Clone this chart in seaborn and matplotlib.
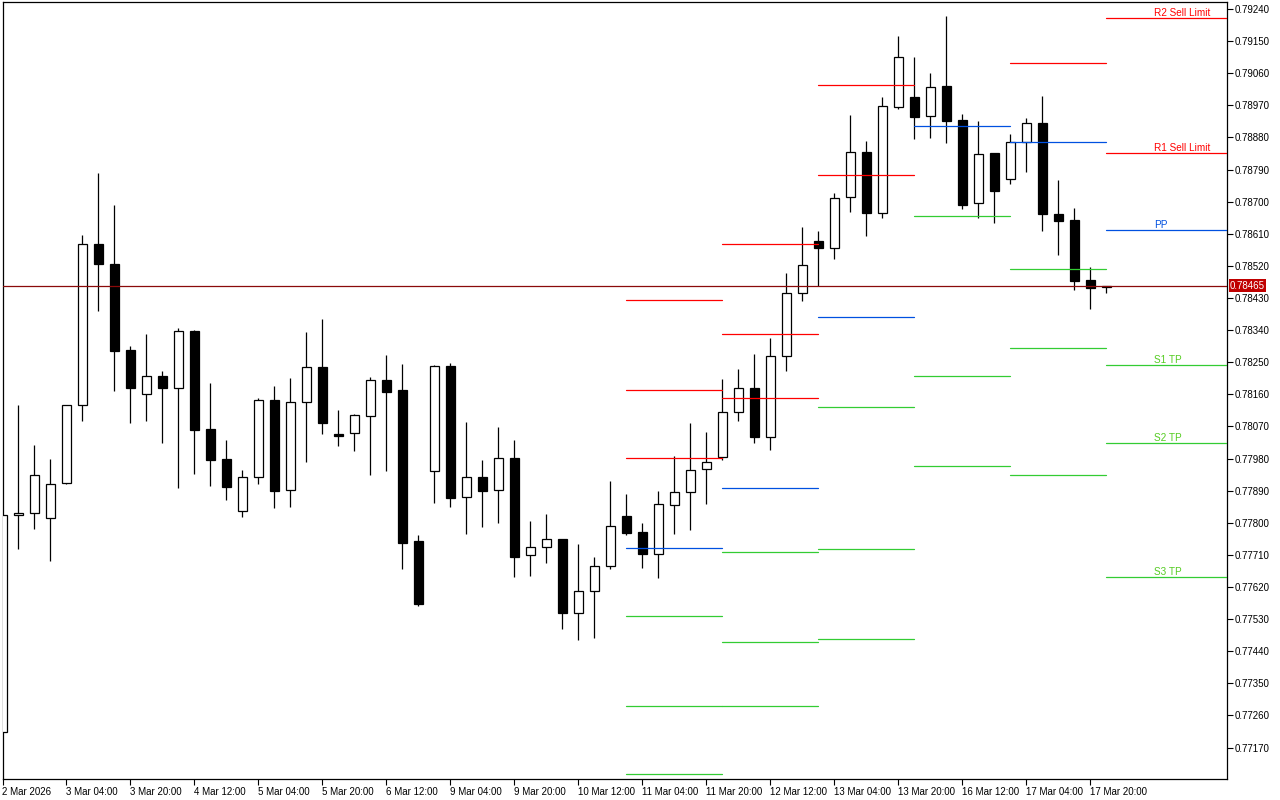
import numpy as np
import pandas as pd
import matplotlib
matplotlib.use("Agg")
import matplotlib.pyplot as plt
import matplotlib.transforms as mtransforms
import seaborn as sns

# ---------------- data (4H candles, 2 Mar 12:00 .. 18 Mar 00:00) ----------------
opens = [0.77214, 0.77821, 0.77827, 0.77813, 0.77911, 0.78129, 0.78581, 0.78524, 0.78283, 0.78160,
         0.78211, 0.78179, 0.78337, 0.78062, 0.77978, 0.77832, 0.77928, 0.78143, 0.77891, 0.78138,
         0.78236, 0.78049, 0.78051, 0.78099, 0.78199, 0.78171, 0.77748, 0.77944, 0.78239, 0.77871,
         0.77928, 0.77891, 0.77981, 0.77709, 0.77731, 0.77755, 0.77546, 0.77608, 0.77678, 0.77819,
         0.77774, 0.77712, 0.77849, 0.77885, 0.77950, 0.77984, 0.78110, 0.78177, 0.78040, 0.78267,
         0.78443, 0.78590, 0.78569, 0.78712, 0.78838, 0.78667, 0.78965, 0.78993, 0.78939, 0.79023,
         0.78928, 0.78695, 0.78836, 0.78763, 0.78866, 0.78920, 0.78665, 0.78648, 0.78480, 0.78460]
highs = [0.77822, 0.78129, 0.78017, 0.77978, 0.78131, 0.78606, 0.78780, 0.78690, 0.78295, 0.78329,
         0.78225, 0.78345, 0.78340, 0.78192, 0.78032, 0.77947, 0.78149, 0.78183, 0.78206, 0.78335,
         0.78371, 0.78116, 0.78105, 0.78209, 0.78270, 0.78245, 0.77766, 0.78242, 0.78248, 0.78082,
         0.77976, 0.78068, 0.78032, 0.77805, 0.77825, 0.77755, 0.77741, 0.77704, 0.77917, 0.77881,
         0.77799, 0.77889, 0.77987, 0.78080, 0.78054, 0.78203, 0.78231, 0.78273, 0.78318, 0.78500,
         0.78629, 0.78618, 0.78724, 0.78943, 0.78870, 0.78993, 0.79164, 0.79106, 0.79061, 0.79220,
         0.78946, 0.78926, 0.78836, 0.78890, 0.78935, 0.78995, 0.78761, 0.78682, 0.78517, 0.78465]
lows = [0.77214, 0.77727, 0.77783, 0.77694, 0.77909, 0.78086, 0.78394, 0.78170, 0.78081, 0.78086,
        0.78025, 0.77898, 0.77938, 0.77904, 0.77864, 0.77817, 0.77910, 0.77842, 0.77845, 0.77971,
        0.78050, 0.78016, 0.78002, 0.77935, 0.77946, 0.77671, 0.77568, 0.77856, 0.77845, 0.77769,
        0.77789, 0.77800, 0.77647, 0.77652, 0.77688, 0.77503, 0.77472, 0.77478, 0.77671, 0.77766,
        0.77674, 0.77646, 0.77769, 0.77781, 0.77854, 0.77977, 0.78086, 0.78025, 0.78005, 0.78226,
        0.78422, 0.78463, 0.78540, 0.78672, 0.78605, 0.78655, 0.78961, 0.78877, 0.78879, 0.78865,
        0.78679, 0.78655, 0.78641, 0.78750, 0.78784, 0.78617, 0.78551, 0.78453, 0.78400, 0.78445]
closes = [0.77822, 0.77827, 0.77933, 0.77908, 0.78129, 0.78581, 0.78526, 0.78282, 0.78179, 0.78211,
          0.78179, 0.78337, 0.78061, 0.77977, 0.77901, 0.77928, 0.78143, 0.77890, 0.78138, 0.78236,
          0.78081, 0.78044, 0.78101, 0.78199, 0.78167, 0.77744, 0.77572, 0.78239, 0.77870, 0.77928,
          0.77890, 0.77981, 0.77705, 0.77731, 0.77754, 0.77548, 0.77608, 0.77678, 0.77790, 0.77772,
          0.77713, 0.77852, 0.77885, 0.77947, 0.77970, 0.78110, 0.78177, 0.78040, 0.78267, 0.78443,
          0.78522, 0.78571, 0.78709, 0.78838, 0.78669, 0.78967, 0.79105, 0.78938, 0.79021, 0.78927,
          0.78692, 0.78833, 0.78731, 0.78866, 0.78920, 0.78666, 0.78647, 0.78479, 0.78459, 0.78465]

time_labels = ["2 Mar 2026", "3 Mar 04:00", "3 Mar 20:00", "4 Mar 12:00", "5 Mar 04:00",
               "5 Mar 20:00", "6 Mar 12:00", "9 Mar 04:00", "9 Mar 20:00", "10 Mar 12:00",
               "11 Mar 04:00", "11 Mar 20:00", "12 Mar 12:00", "13 Mar 04:00", "13 Mar 20:00",
               "16 Mar 12:00", "17 Mar 04:00", "17 Mar 20:00"]

# daily pivot levels (days 11, 12, 13, 16, 17, 18 Mar)
pivot_days = ["11 Mar", "12 Mar", "13 Mar", "16 Mar", "17 Mar", "18 Mar"]
pivot_start = [39, 45, 51, 57, 63, 69]   # first candle of each day
R3 = [0.78424, 0.78581, 0.79425, 0.80061, 0.79666, 0.79431]
R2 = [0.78172, 0.78329, 0.79027, 0.79613, 0.79445, 0.79214]
R1 = [0.77982, 0.78150, 0.78775, 0.79361, 0.79089, 0.78836]
PP = [0.77729, 0.77898, 0.78377, 0.78912, 0.78867, 0.78620]
S1 = [0.77539, 0.77718, 0.78125, 0.78660, 0.78511, 0.78242]
S2 = [0.77287, 0.77466, 0.77727, 0.78211, 0.78290, 0.78023]
S3 = [0.77096, 0.77287, 0.77474, 0.77959, 0.77934, 0.77647]
level_labels = {"R2": "R2 Sell Limit", "R1": "R1 Sell Limit", "PP": "PP",
                "S1": "S1 TP", "S2": "S2 TP", "S3": "S3 TP"}

current_price = 0.78465
y_ticks = [0.77170, 0.77260, 0.77350, 0.77440, 0.77530, 0.77620, 0.77710, 0.77800,
           0.77890, 0.77980, 0.78070, 0.78160, 0.78250, 0.78340, 0.78430, 0.78520,
           0.78610, 0.78700, 0.78790, 0.78880, 0.78970, 0.79060, 0.79150, 0.79240]

# ---------------- style ----------------
sns.set_style("white")
plt.rcParams['font.family'] = ['Liberation Sans', 'DejaVu Sans']

RED = "#ff0000"
BLUE = "#0050e0"
GREEN = "#33cc33"
LBL_GREEN = "#55cc22"

fig = plt.figure(figsize=(12.8, 8), dpi=100)
fig.patch.set_facecolor("white")
ax = fig.add_axes([2.5 / 1280, 21 / 800, 1224.8 / 1280, 776.7 / 800])
ax.set_facecolor("white")

df = pd.DataFrame(dict(i=np.arange(len(opens)), o=opens, h=highs, l=lows, c=closes))
up = (df.c >= df.o).values
bottoms = np.minimum(df.o, df.c).values
heights = np.maximum(np.abs(df.c - df.o).values, 0.00003)

# wicks
ax.vlines(df.i, df.l, df.h, color="black", lw=0.9, zorder=2)
# bodies
ax.bar(df.i[up], heights[up], bottom=bottoms[up], width=0.6, facecolor="white",
       edgecolor="black", linewidth=0.9, zorder=3)
ax.bar(df.i[~up], heights[~up], bottom=bottoms[~up], width=0.6, facecolor="black",
       edgecolor="black", linewidth=0.9, zorder=3)

# pivot segments via seaborn
XMAX = 76.56
levels = {"R3": R3, "R2": R2, "R1": R1, "PP": PP, "S1": S1, "S2": S2, "S3": S3}
rows = []
for k, day in enumerate(pivot_days):
    x0 = pivot_start[k]
    x1 = pivot_start[k + 1] if k + 1 < len(pivot_start) else XMAX + 1
    for name, vals in levels.items():
        kind = name[0] if name != "PP" else "P"
        for xx in (x0, x1):
            rows.append(dict(x=xx, price=vals[k], kind=kind, seg=f"{day}-{name}"))
pv = pd.DataFrame(rows)
sns.lineplot(data=pv, x="x", y="price", hue="kind", units="seg", estimator=None,
             palette={"R": RED, "P": BLUE, "S": GREEN}, legend=False, lw=0.9,
             sort=False, ax=ax, zorder=4)

# labels of the current day's levels
label_x = 72
for name, text in level_labels.items():
    val = levels[name][-1]
    col = RED if name.startswith("R") else (BLUE if name == "PP" else LBL_GREEN)
    ax.text(label_x, val, text, color=col, fontsize=7.2, ha="left", va="bottom", zorder=6)

# current price line
ax.axhline(current_price, color="#8a0a0a", lw=0.9, zorder=5)
trans = mtransforms.blended_transform_factory(ax.transAxes, ax.transData)
ax.text(1.0022, current_price, f"{current_price:.5f}", transform=trans, color="white",
        fontsize=7, ha="left", va="center", clip_on=False, zorder=10,
        bbox=dict(boxstyle="square,pad=0.12", fc="#c00000", ec="none"))

# axes
ax.set_xlim(0, XMAX)
ax.set_ylim(0.770819, 0.792588)
ax.yaxis.tick_right()
ax.set_yticks(y_ticks)
ax.set_yticklabels([f"{v:.5f}" for v in y_ticks])
ax.set_xticks(np.arange(0, 4 * len(time_labels), 4))
ax.set_xticklabels(time_labels)
for lbl in ax.get_xticklabels():
    lbl.set_horizontalalignment("left")
ax.tick_params(axis="x", direction="out", length=4, width=0.8, pad=1.5,
               labelsize=7, colors="black", bottom=True)
ax.tick_params(axis="y", direction="out", length=4, width=0.8, pad=1.2,
               labelsize=7, colors="black", right=True, left=False)
ax.set_xlabel("")
ax.set_ylabel("")
for sp in ax.spines.values():
    sp.set_visible(True)
    sp.set_color("black")
    sp.set_linewidth(0.9)
ax.grid(False)

fig.savefig("out.png", dpi=100, facecolor="white")
